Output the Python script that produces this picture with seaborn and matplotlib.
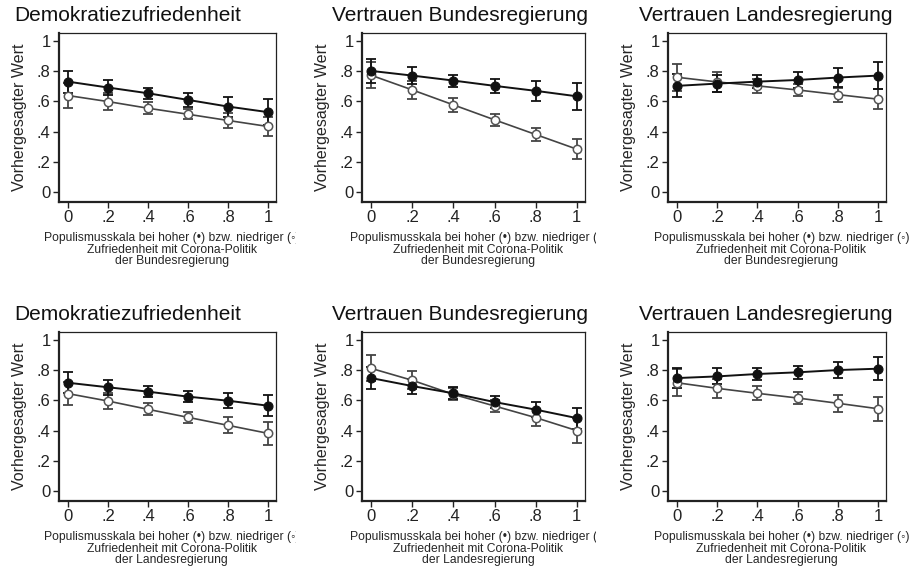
import numpy as np
import pandas as pd
import matplotlib
matplotlib.use("Agg")
import matplotlib.pyplot as plt
from matplotlib.transforms import Bbox, TransformedBbox
import seaborn as sns

# ---------------------------------------------------------------------------
# Data
# ---------------------------------------------------------------------------

X_VALUES = [0, 0.2, 0.4, 0.6, 0.8, 1.0]
X_TICKLABELS = ["0", ".2", ".4", ".6", ".8", "1"]
Y_TICKS = [0, 0.2, 0.4, 0.6, 0.8, 1.0]
Y_TICKLABELS = ["0", ".2", ".4", ".6", ".8", "1"]

TITLES = ["Demokratiezufriedenheit", "Vertrauen Bundesregierung", "Vertrauen Landesregierung"]
ROW_LEVELS = ["der Bundesregierung", "der Landesregierung"]
YLABEL = "Vorhergesagter Wert"

# row 1: Zufriedenheit mit Corona-Politik der Bundesregierung
demo_bund_high = [0.731, 0.692, 0.654, 0.610, 0.566, 0.529]
demo_bund_high_ci = [0.073, 0.050, 0.038, 0.044, 0.066, 0.086]
demo_bund_low = [0.639, 0.599, 0.555, 0.515, 0.474, 0.434]
demo_bund_low_ci = [0.080, 0.055, 0.040, 0.033, 0.051, 0.066]

vbund_bund_high = [0.802, 0.771, 0.738, 0.703, 0.670, 0.634]
vbund_bund_high_ci = [0.077, 0.055, 0.040, 0.046, 0.066, 0.091]
vbund_bund_low = [0.773, 0.676, 0.577, 0.478, 0.381, 0.284]
vbund_bund_low_ci = [0.086, 0.061, 0.045, 0.040, 0.045, 0.066]

vland_bund_high = [0.703, 0.718, 0.731, 0.742, 0.758, 0.771]
vland_bund_high_ci = [0.077, 0.055, 0.042, 0.050, 0.064, 0.088]
vland_bund_low = [0.760, 0.729, 0.703, 0.676, 0.645, 0.615]
vland_bund_low_ci = [0.088, 0.066, 0.045, 0.038, 0.047, 0.066]

# row 2: Zufriedenheit mit Corona-Politik der Landesregierung
demo_land_high = [0.717, 0.687, 0.658, 0.625, 0.598, 0.565]
demo_land_high_ci = [0.071, 0.050, 0.035, 0.037, 0.048, 0.068]
demo_land_low = [0.645, 0.596, 0.541, 0.488, 0.435, 0.382]
demo_land_low_ci = [0.078, 0.055, 0.040, 0.038, 0.053, 0.076]

vbund_land_high = [0.748, 0.695, 0.647, 0.589, 0.539, 0.483]
vbund_land_high_ci = [0.070, 0.050, 0.040, 0.040, 0.050, 0.070]
vbund_land_low = [0.812, 0.733, 0.640, 0.563, 0.486, 0.400]
vbund_land_low_ci = [0.086, 0.060, 0.040, 0.040, 0.056, 0.082]

vland_land_high = [0.748, 0.759, 0.775, 0.786, 0.801, 0.810]
vland_land_high_ci = [0.066, 0.053, 0.038, 0.042, 0.051, 0.075]
vland_land_low = [0.717, 0.680, 0.647, 0.616, 0.581, 0.545]
vland_land_low_ci = [0.088, 0.062, 0.046, 0.038, 0.055, 0.080]

PANELS = [
    [(demo_bund_high, demo_bund_high_ci, demo_bund_low, demo_bund_low_ci),
     (vbund_bund_high, vbund_bund_high_ci, vbund_bund_low, vbund_bund_low_ci),
     (vland_bund_high, vland_bund_high_ci, vland_bund_low, vland_bund_low_ci)],
    [(demo_land_high, demo_land_high_ci, demo_land_low, demo_land_low_ci),
     (vbund_land_high, vbund_land_high_ci, vbund_land_low, vbund_land_low_ci),
     (vland_land_high, vland_land_high_ci, vland_land_low, vland_land_low_ci)],
]

# ---------------------------------------------------------------------------
# Layout (pixel boxes of the stata-style graph combine)
# ---------------------------------------------------------------------------

W, H = 913, 566
COL_X = [(59, 276), (362, 585), (668, 886)]
ROW_Y = [(33, 202), (332, 501)]
CELL_RIGHT = [296, 596, 913]
TITLE_X = [14, 332, 639]

sns.set_style("ticks")
plt.rcParams.update({
    "font.family": ["Liberation Sans", "DejaVu Sans"],
    "axes.edgecolor": "#222222",
    "xtick.color": "#222222",
    "ytick.color": "#222222",
})

HIGH_COLOR = "#111111"
LOW_COLOR = "#444444"

fig = plt.figure(figsize=(W / 100, H / 100), dpi=100)

for r, (y0, y1) in enumerate(ROW_Y):
    for c, (x0, x1) in enumerate(COL_X):
        ax = fig.add_axes([x0 / W, 1 - y1 / H, (x1 - x0) / W, (y1 - y0) / H])
        high, high_ci, low, low_ci = PANELS[r][c]

        df = pd.DataFrame({
            "x": X_VALUES * 2,
            "y": high + low,
            "group": ["hoch"] * len(X_VALUES) + ["niedrig"] * len(X_VALUES),
        })

        # error bars first, lines/markers on top
        ax.errorbar(X_VALUES, low, yerr=low_ci, fmt="none", ecolor=LOW_COLOR,
                    elinewidth=1.3, capsize=3.3, capthick=1.3, zorder=2)
        ax.errorbar(X_VALUES, high, yerr=high_ci, fmt="none", ecolor=HIGH_COLOR,
                    elinewidth=1.3, capsize=3.3, capthick=1.3, zorder=2)

        sns.lineplot(data=df[df["group"] == "niedrig"], x="x", y="y", ax=ax,
                     color=LOW_COLOR, linewidth=1.2, marker="o", markersize=6,
                     markerfacecolor="white", markeredgecolor="#555555",
                     markeredgewidth=1.1, zorder=3, legend=False)
        sns.lineplot(data=df[df["group"] == "hoch"], x="x", y="y", ax=ax,
                     color=HIGH_COLOR, linewidth=1.4, marker="o", markersize=6.5,
                     markerfacecolor=HIGH_COLOR, markeredgecolor=HIGH_COLOR,
                     zorder=4, legend=False)

        ax.set_xlim(-0.045, 1.04)
        ax.set_ylim(-0.066, 1.053)
        ax.set_xticks(X_VALUES)
        ax.set_xticklabels(X_TICKLABELS, fontsize=12)
        ax.set_yticks(Y_TICKS)
        ax.set_yticklabels(Y_TICKLABELS, fontsize=12)
        ax.tick_params(direction="out", length=4, width=1, pad=2)

        for side in ["top", "right", "left", "bottom"]:
            ax.spines[side].set_visible(True)
        ax.spines["top"].set_linewidth(0.9)
        ax.spines["right"].set_linewidth(0.9)
        ax.spines["left"].set_linewidth(1.6)
        ax.spines["bottom"].set_linewidth(1.6)

        ax.set_ylabel(YLABEL, fontsize=11.5, labelpad=7)
        xlab = ax.set_xlabel(
            "Populismusskala bei hoher (•) bzw. niedriger (◦)\n"
            "Zufriedenheit mit Corona-Politik\n" + ROW_LEVELS[r],
            fontsize=8.7, linespacing=0.92, labelpad=5,
        )
        xlab.set_x(0.52)
        # the combined graph cuts each cell off at its right edge
        clip = TransformedBbox(Bbox([[0, 0], [CELL_RIGHT[c] / W, 1]]), fig.transFigure)
        xlab.set_clip_on(True)
        xlab.set_clip_box(clip)

        fig.text(TITLE_X[c] / W, 1 - (y0 - 12) / H, TITLES[c], fontsize=15,
                 ha="left", va="baseline", color="#111111")

fig.savefig("out.png", dpi=100, facecolor="white")
